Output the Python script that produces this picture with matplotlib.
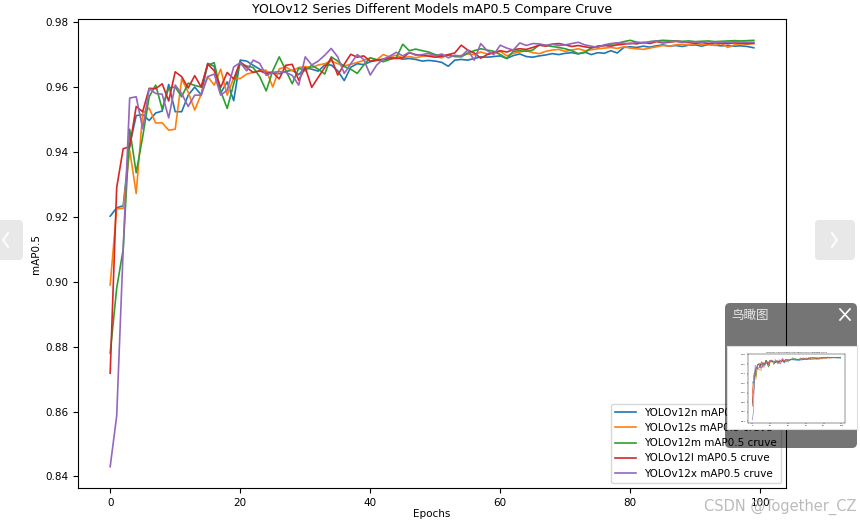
import numpy as np
import matplotlib
matplotlib.use('Agg')
import matplotlib.pyplot as plt
from matplotlib.patches import FancyBboxPatch

# 数据: 每个模型 100 个 epoch 的 mAP0.5
epochs = np.arange(100)

map_n = [0.9202, 0.9228, 0.9234, 0.9420, 0.9512, 0.9515, 0.9497, 0.9520, 0.9526, 0.9608,
         0.9524, 0.9524, 0.9575, 0.9600, 0.9576, 0.9673, 0.9664, 0.9582, 0.9616, 0.9558,
         0.9683, 0.9680, 0.9667, 0.9655, 0.9646, 0.9645, 0.9641, 0.9648, 0.9652, 0.9638,
         0.9660, 0.9655, 0.9649, 0.9668, 0.9668, 0.9650, 0.9620, 0.9661, 0.9672, 0.9669,
         0.9678, 0.9682, 0.9684, 0.9688, 0.9690, 0.9686, 0.9688, 0.9685, 0.9680, 0.9682,
         0.9680, 0.9676, 0.9664, 0.9683, 0.9685, 0.9683, 0.9688, 0.9693, 0.9692, 0.9694,
         0.9696, 0.9688, 0.9697, 0.9702, 0.9694, 0.9692, 0.9696, 0.9699, 0.9703, 0.9700,
         0.9704, 0.9706, 0.9702, 0.9708, 0.9700, 0.9706, 0.9704, 0.9712, 0.9705, 0.9722,
         0.9724, 0.9722, 0.9726, 0.9723, 0.9727, 0.9730, 0.9726, 0.9728, 0.9725, 0.9729,
         0.9730, 0.9726, 0.9731, 0.9729, 0.9727, 0.9728, 0.9726, 0.9727, 0.9725, 0.9721]

map_s = [0.8990, 0.9225, 0.9226, 0.9405, 0.9272, 0.9520, 0.9535, 0.9489, 0.9490, 0.9467,
         0.9470, 0.9625, 0.9584, 0.9529, 0.9578, 0.9632, 0.9606, 0.9655, 0.9575, 0.9628,
         0.9626, 0.9640, 0.9645, 0.9650, 0.9652, 0.9600, 0.9656, 0.9662, 0.9650, 0.9660,
         0.9663, 0.9660, 0.9668, 0.9672, 0.9680, 0.9672, 0.9665, 0.9670, 0.9676, 0.9682,
         0.9690, 0.9684, 0.9700, 0.9693, 0.9698, 0.9690, 0.9694, 0.9690, 0.9695, 0.9698,
         0.9694, 0.9690, 0.9700, 0.9695, 0.9697, 0.9702, 0.9700, 0.9708, 0.9702, 0.9705,
         0.9710, 0.9696, 0.9704, 0.9708, 0.9712, 0.9706, 0.9703, 0.9710, 0.9714, 0.9716,
         0.9710, 0.9714, 0.9718, 0.9712, 0.9715, 0.9718, 0.9720, 0.9722, 0.9719, 0.9724,
         0.9720, 0.9718, 0.9716, 0.9720, 0.9724, 0.9728, 0.9726, 0.9730, 0.9732, 0.9729,
         0.9734, 0.9730, 0.9732, 0.9728, 0.9734, 0.9722, 0.9730, 0.9733, 0.9732, 0.9734]

map_m = [0.8780, 0.8980, 0.9100, 0.9470, 0.9336, 0.9447, 0.9570, 0.9606, 0.9532, 0.9597,
         0.9600, 0.9570, 0.9612, 0.9605, 0.9600, 0.9667, 0.9675, 0.9587, 0.9534, 0.9610,
         0.9673, 0.9665, 0.9660, 0.9632, 0.9588, 0.9650, 0.9693, 0.9652, 0.9610, 0.9658,
         0.9650, 0.9667, 0.9655, 0.9640, 0.9693, 0.9680, 0.9663, 0.9655, 0.9642, 0.9668,
         0.9690, 0.9684, 0.9678, 0.9685, 0.9690, 0.9732, 0.9712, 0.9717, 0.9712, 0.9708,
         0.9700, 0.9696, 0.9698, 0.9694, 0.9693, 0.9705, 0.9712, 0.9718, 0.9714, 0.9710,
         0.9700, 0.9688, 0.9710, 0.9712, 0.9710, 0.9714, 0.9730, 0.9728, 0.9725, 0.9722,
         0.9718, 0.9712, 0.9703, 0.9706, 0.9721, 0.9726, 0.9728, 0.9732, 0.9735, 0.9740,
         0.9744, 0.9738, 0.9736, 0.9740, 0.9742, 0.9744, 0.9743, 0.9742, 0.9741, 0.9742,
         0.9740, 0.9741, 0.9742, 0.9740, 0.9741, 0.9742, 0.9743, 0.9742, 0.9743, 0.9744]

map_l = [0.8718, 0.9290, 0.9410, 0.9416, 0.9540, 0.9524, 0.9596, 0.9595, 0.9610, 0.9557,
         0.9647, 0.9632, 0.9597, 0.9635, 0.9600, 0.9671, 0.9650, 0.9599, 0.9645, 0.9625,
         0.9678, 0.9660, 0.9645, 0.9650, 0.9642, 0.9645, 0.9625, 0.9667, 0.9670, 0.9621,
         0.9660, 0.9599, 0.9630, 0.9660, 0.9689, 0.9637, 0.9670, 0.9701, 0.9692, 0.9696,
         0.9680, 0.9683, 0.9686, 0.9690, 0.9688, 0.9690, 0.9706, 0.9700, 0.9698, 0.9695,
         0.9692, 0.9695, 0.9700, 0.9705, 0.9729, 0.9714, 0.9705, 0.9689, 0.9700, 0.9706,
         0.9712, 0.9708, 0.9715, 0.9718, 0.9716, 0.9722, 0.9729, 0.9726, 0.9732, 0.9734,
         0.9730, 0.9725, 0.9728, 0.9724, 0.9721, 0.9725, 0.9728, 0.9726, 0.9730, 0.9732,
         0.9735, 0.9733, 0.9738, 0.9734, 0.9740, 0.9736, 0.9738, 0.9741, 0.9739, 0.9737,
         0.9735, 0.9737, 0.9734, 0.9736, 0.9735, 0.9734, 0.9736, 0.9735, 0.9734, 0.9735]

map_x = [0.8430, 0.8586, 0.9100, 0.9566, 0.9570, 0.9472, 0.9595, 0.9580, 0.9578, 0.9505,
         0.9606, 0.9580, 0.9540, 0.9575, 0.9575, 0.9632, 0.9640, 0.9575, 0.9590, 0.9662,
         0.9675, 0.9650, 0.9683, 0.9673, 0.9636, 0.9645, 0.9648, 0.9645, 0.9636, 0.9606,
         0.9693, 0.9668, 0.9680, 0.9698, 0.9719, 0.9693, 0.9642, 0.9672, 0.9700, 0.9685,
         0.9637, 0.9668, 0.9686, 0.9695, 0.9707, 0.9696, 0.9707, 0.9698, 0.9700, 0.9704,
         0.9696, 0.9702, 0.9690, 0.9698, 0.9695, 0.9714, 0.9683, 0.9734, 0.9712, 0.9700,
         0.9729, 0.9720, 0.9714, 0.9736, 0.9728, 0.9734, 0.9733, 0.9729, 0.9732, 0.9728,
         0.9730, 0.9734, 0.9738, 0.9730, 0.9726, 0.9722, 0.9730, 0.9734, 0.9736, 0.9735,
         0.9733, 0.9738, 0.9736, 0.9739, 0.9742, 0.9738, 0.9740, 0.9741, 0.9738, 0.9740,
         0.9739, 0.9737, 0.9740, 0.9738, 0.9739, 0.9738, 0.9740, 0.9739, 0.9738, 0.9738]

series = [map_n, map_s, map_m, map_l, map_x]
labels = ['YOLOv12n mAP0.5 cruve', 'YOLOv12s mAP0.5 cruve', 'YOLOv12m mAP0.5 cruve',
          'YOLOv12l mAP0.5 cruve', 'YOLOv12x mAP0.5 cruve']

plt.rcParams['font.size'] = 7.5

W, H = 860, 520
fig = plt.figure(figsize=(W / 100, H / 100), dpi=100)

# 主图
ax = fig.add_axes([78 / W, 1 - 488 / H, 708 / W, 469 / H])
for vals, lab in zip(series, labels):
    ax.plot(epochs, vals, label=lab, linewidth=1.2)
ax.set_title('YOLOv12 Series Different Models mAP0.5 Compare Cruve', fontsize=9, pad=4)
ax.set_xlabel('Epochs', labelpad=1)
ax.set_ylabel('mAP0.5', labelpad=3)
ax.legend(loc='lower right')
ax.set_xticks([0, 20, 40, 60, 80, 100])

# 网页上的覆盖层 (按钮, 鸟瞰图, 水印), 用像素坐标
ov = fig.add_axes([0, 0, 1, 1], zorder=5)
ov.set_xlim(0, W)
ov.set_ylim(H, 0)
ov.axis('off')
ov.patch.set_alpha(0)

ov.add_patch(FancyBboxPatch((-10, 220), 33, 40, boxstyle='round,pad=0,rounding_size=4',
                            fc='#e4e4e4', ec='none', alpha=0.85))
ov.plot([8, 3, 8], [233, 240, 247], color='white', lw=1.3)
ov.add_patch(FancyBboxPatch((815, 220), 40, 40, boxstyle='round,pad=0,rounding_size=4',
                            fc='#e4e4e4', ec='none', alpha=0.85))
ov.plot([832, 837, 832], [233, 240, 247], color='white', lw=1.3)

ov.add_patch(FancyBboxPatch((725, 303), 132, 145, boxstyle='round,pad=0,rounding_size=5',
                            fc='black', ec='none', alpha=0.54))
ov.text(731, 315, '鸟瞰图', color='#e8e8e8', fontsize=9, va='center',
        family=['Noto Sans CJK SC', 'DejaVu Sans'])
ov.plot([840, 850], [309, 320], color='white', lw=1.2)
ov.plot([840, 850], [320, 309], color='white', lw=1.2)

ov.text(857, 507, 'CSDN @Together_CZ', color='#aaaaaa', alpha=0.8, fontsize=10.5,
        ha='right', va='center')

# 鸟瞰图缩略图
thumb = fig.add_axes([727 / W, 1 - 429 / H, 130 / W, 83 / H], zorder=6)
thumb.set_xticks([])
thumb.set_yticks([])
for s in thumb.spines.values():
    s.set_color('#dddddd')

mini = fig.add_axes([748 / W, 1 - 423 / H, 97 / W, 69 / H], zorder=7)
for vals in series:
    mini.plot(epochs, vals, linewidth=0.4)
mini.tick_params(labelsize=1.5, length=1, width=0.3, pad=0.5)
for s in mini.spines.values():
    s.set_linewidth(0.3)
mini.set_title('YOLOv12 Series Different Models mAP0.5 Compare Cruve', fontsize=1.5, pad=1)

fig.savefig('out.png', dpi=100)
